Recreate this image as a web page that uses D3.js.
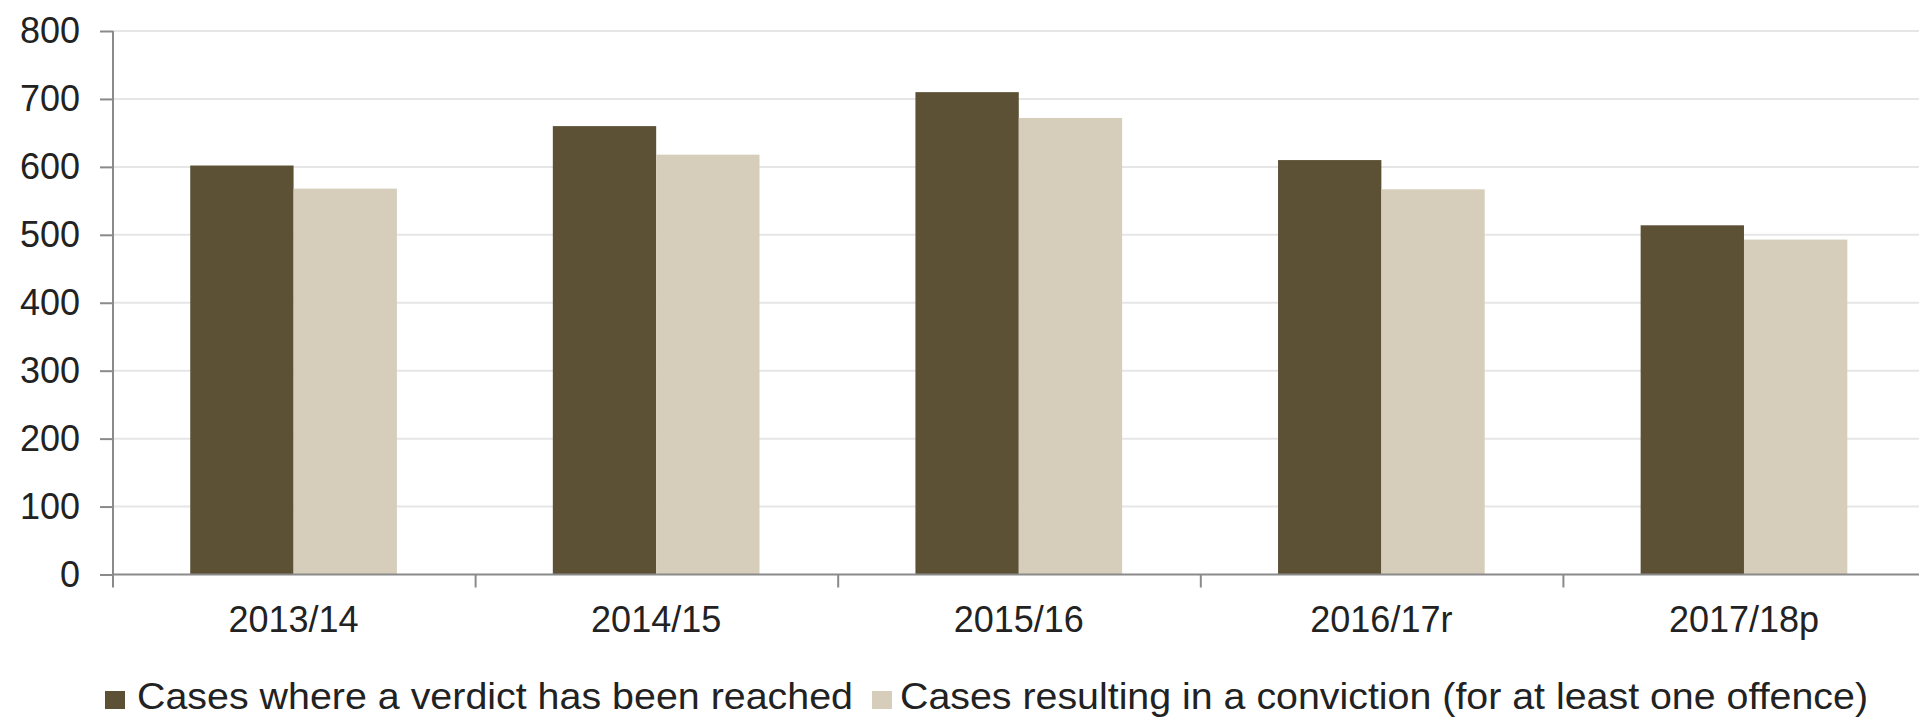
<!DOCTYPE html>
<html>
<head>
<meta charset="utf-8">
<script src="https://cdn.jsdelivr.net/npm/d3@7"></script>
<style>
  html, body { margin: 0; padding: 0; background: #fff; }
  svg { display: block; }
  text { font-family: "Liberation Sans", Arial, sans-serif; fill: #222; }
</style>
</head>
<body>
<svg id="chart" width="1919" height="719"></svg>
<script>
// Court cases by financial year
const years = ["2013/14", "2014/15", "2015/16", "2016/17r", "2017/18p"];
const verdictReached = [602, 660, 710, 610, 514];
const convictions = [568, 618, 672, 567, 493];
const seriesNames = [
  "Cases where a verdict has been reached",
  "Cases resulting in a conviction (for at least one offence)"
];
const seriesColors = ["#5c5035", "#d6cebb"];
const yTicks = [0, 100, 200, 300, 400, 500, 600, 700, 800];

const svg = d3.select("#chart");
const plot = { left: 113, right: 1926, top: 31, bottom: 574.5 };

const x0 = d3.scaleBand().domain(years).range([plot.left, plot.right]).padding(0);
const x1 = d3.scaleBand().domain([0, 1])
  .range([x0.bandwidth() * 0.213, x0.bandwidth() * 0.783]).padding(0);
const y = d3.scaleLinear().domain([0, 800]).range([plot.bottom, plot.top]);

// horizontal gridlines
svg.append("g").selectAll("line")
  .data(yTicks.filter(d => d > 0))
  .join("line")
  .attr("x1", plot.left).attr("x2", plot.right)
  .attr("y1", d => y(d)).attr("y2", d => y(d))
  .attr("stroke", "#e6e6e6").attr("stroke-width", 2);

// bars
const rows = years.map((yr, i) => ({ yr, vals: [verdictReached[i], convictions[i]] }));
const groups = svg.append("g").selectAll("g")
  .data(rows).join("g")
  .attr("transform", d => `translate(${x0(d.yr)},0)`);
groups.selectAll("rect")
  .data(d => d.vals.map((v, k) => ({ v, k })))
  .join("rect")
  .attr("x", d => x1(d.k))
  .attr("width", x1.bandwidth())
  .attr("y", d => y(d.v))
  .attr("height", d => y(0) - y(d.v))
  .attr("fill", d => seriesColors[d.k]);

// y axis
const yAxis = svg.append("g")
  .attr("transform", `translate(${plot.left},0)`)
  .call(d3.axisLeft(y).tickValues(yTicks).tickSize(13).tickPadding(20).tickSizeOuter(0));
yAxis.select(".domain").remove();
yAxis.selectAll(".tick line").attr("stroke", "#8a8a8a").attr("stroke-width", 2);
yAxis.selectAll(".tick text")
  .attr("font-size", 36).attr("fill", "#222")
  .attr("font-family", "Liberation Sans, Arial, sans-serif");
svg.append("line")
  .attr("x1", plot.left).attr("x2", plot.left)
  .attr("y1", plot.top).attr("y2", plot.bottom + 13)
  .attr("stroke", "#8a8a8a").attr("stroke-width", 2);

// x axis
svg.append("line")
  .attr("x1", plot.left).attr("x2", plot.right)
  .attr("y1", plot.bottom).attr("y2", plot.bottom)
  .attr("stroke", "#8a8a8a").attr("stroke-width", 2);
svg.append("g").selectAll("line")
  .data(years.slice(1))
  .join("line")
  .attr("x1", d => x0(d)).attr("x2", d => x0(d))
  .attr("y1", plot.bottom).attr("y2", plot.bottom + 13)
  .attr("stroke", "#8a8a8a").attr("stroke-width", 2);
svg.append("g").selectAll("text")
  .data(years)
  .join("text")
  .attr("x", d => x0(d) + x0.bandwidth() * 0.498)
  .attr("y", 632)
  .attr("text-anchor", "middle")
  .attr("font-size", 36)
  .text(d => d);

// legend
const legend = [
  { x: 105, tx: 137, w: 716 },
  { x: 872, tx: 900, w: 968 }
];
legend.forEach((L, k) => {
  svg.append("rect")
    .attr("x", L.x).attr("y", 691).attr("width", 20).attr("height", 18)
    .attr("fill", seriesColors[k]);
  svg.append("text")
    .attr("x", L.tx).attr("y", 709)
    .attr("font-size", 36)
    .attr("textLength", L.w).attr("lengthAdjust", "spacingAndGlyphs")
    .text(seriesNames[k]);
});
</script>
</body>
</html>
